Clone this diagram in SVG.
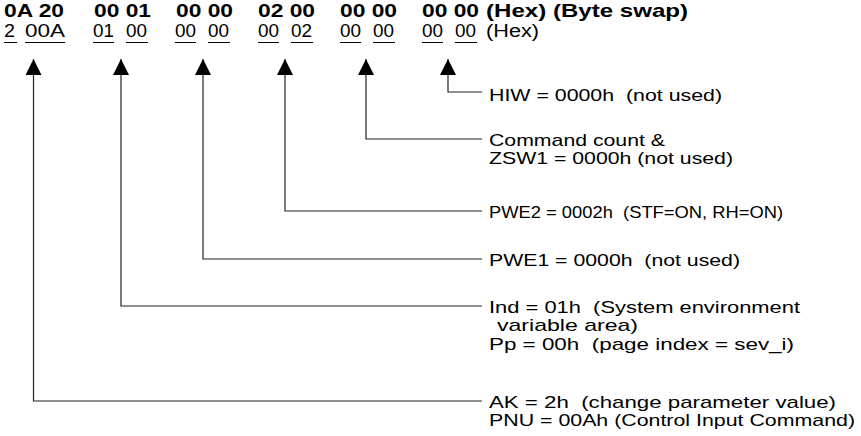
<svg xmlns="http://www.w3.org/2000/svg" width="861" height="436" viewBox="0 0 861 436">
<defs>
<style>
text{font-family:"Liberation Sans",Arial,sans-serif;fill:#000;white-space:pre}
.b{font-weight:bold;font-size:18.5px}
.r{font-size:18px}
.l{font-size:17px}
.ul{stroke:#000;stroke-width:1}
.c{fill:none;stroke:#222;stroke-width:1.2}
</style>
<marker id="ah" viewBox="0 0 16 16" refX="16" refY="8" markerWidth="16" markerHeight="16" markerUnits="userSpaceOnUse" orient="auto">
<path d="M0,0 L16,8 L0,16 z" fill="#000"/>
</marker>
</defs>
<rect width="861" height="436" fill="#fff"/>
<g id="header">
<text class="b" x="4" y="17" textLength="60" lengthAdjust="spacingAndGlyphs">0A 20</text>
<text class="b" x="94" y="17" textLength="57" lengthAdjust="spacingAndGlyphs">00 01</text>
<text class="b" x="176" y="17" textLength="57" lengthAdjust="spacingAndGlyphs">00 00</text>
<text class="b" x="258" y="17" textLength="57" lengthAdjust="spacingAndGlyphs">02 00</text>
<text class="b" x="340" y="17" textLength="57" lengthAdjust="spacingAndGlyphs">00 00</text>
<text class="b" x="422" y="17" textLength="57" lengthAdjust="spacingAndGlyphs">00 00</text>
<text class="b" x="486" y="17" textLength="202" lengthAdjust="spacingAndGlyphs">(Hex) (Byte swap)</text>
<text class="r" x="4" y="37" textLength="11" lengthAdjust="spacingAndGlyphs">2</text>
<text class="r" x="25" y="37" textLength="40" lengthAdjust="spacingAndGlyphs">00A</text>
<text class="r" x="93" y="37" textLength="21" lengthAdjust="spacingAndGlyphs">01</text>
<text class="r" x="126" y="37" textLength="21" lengthAdjust="spacingAndGlyphs">00</text>
<text class="r" x="175" y="37" textLength="21" lengthAdjust="spacingAndGlyphs">00</text>
<text class="r" x="208" y="37" textLength="21" lengthAdjust="spacingAndGlyphs">00</text>
<text class="r" x="258" y="37" textLength="21" lengthAdjust="spacingAndGlyphs">00</text>
<text class="r" x="291" y="37" textLength="21" lengthAdjust="spacingAndGlyphs">02</text>
<text class="r" x="340" y="37" textLength="21" lengthAdjust="spacingAndGlyphs">00</text>
<text class="r" x="373" y="37" textLength="21" lengthAdjust="spacingAndGlyphs">00</text>
<text class="r" x="422" y="37" textLength="21" lengthAdjust="spacingAndGlyphs">00</text>
<text class="r" x="455" y="37" textLength="21" lengthAdjust="spacingAndGlyphs">00</text>
<text class="r" x="486" y="37" textLength="53" lengthAdjust="spacingAndGlyphs">(Hex)</text>
<path class="ul" d="M4,42.5H17M25,42.5H65M93,42.5H114M126,42.5H148M175,42.5H196M208,42.5H230M258,42.5H279M291,42.5H313M340,42.5H361M373,42.5H395M422,42.5H443M455,42.5H477"/>
</g>
<g id="connectors">
<path class="c" d="M482,92H448V59" marker-end="url(#ah)"/>
<path class="c" d="M482,139H366V59" marker-end="url(#ah)"/>
<path class="c" d="M482,211H285V59" marker-end="url(#ah)"/>
<path class="c" d="M482,259H203V59" marker-end="url(#ah)"/>
<path class="c" d="M482,306H121V59" marker-end="url(#ah)"/>
<path class="c" d="M482,401H33.5V59" marker-end="url(#ah)"/>
</g>
<g id="hiw"><text class="l" x="489" y="101" textLength="233" lengthAdjust="spacingAndGlyphs">HIW = 0000h  (not used)</text></g>
<g id="zsw1">
<text class="l" x="489" y="146" textLength="176" lengthAdjust="spacingAndGlyphs">Command count &amp;</text>
<text class="l" x="489" y="164" textLength="244" lengthAdjust="spacingAndGlyphs">ZSW1 = 0000h (not used)</text>
</g>
<g id="pwe2"><text class="l" x="489" y="218" textLength="294" lengthAdjust="spacingAndGlyphs">PWE2 = 0002h  (STF=ON, RH=ON)</text></g>
<g id="pwe1"><text class="l" x="489" y="266" textLength="251" lengthAdjust="spacingAndGlyphs">PWE1 = 0000h  (not used)</text></g>
<g id="ind">
<text class="l" x="489" y="313" textLength="311" lengthAdjust="spacingAndGlyphs">Ind = 01h  (System environment</text>
<text class="l" x="497" y="331" textLength="141" lengthAdjust="spacingAndGlyphs">variable area)</text>
<text class="l" x="489" y="350" textLength="305" lengthAdjust="spacingAndGlyphs">Pp = 00h  (page index = sev_i)</text>
</g>
<g id="ak">
<text class="l" x="489" y="408" textLength="347" lengthAdjust="spacingAndGlyphs">AK = 2h  (change parameter value)</text>
<text class="l" x="489" y="426" textLength="366" lengthAdjust="spacingAndGlyphs">PNU = 00Ah (Control Input Command)</text>
</g>
</svg>
